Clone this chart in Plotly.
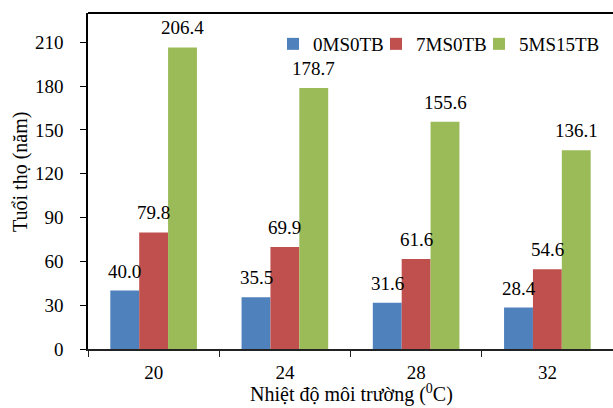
import plotly.graph_objects as go

categories = ["20", "24", "28", "32"]
s0 = [40.0, 35.5, 31.6, 28.4]
s7 = [79.8, 69.9, 61.6, 54.6]
s5 = [206.4, 178.7, 155.6, 136.1]
series_names = ["0MS0TB", "7MS0TB", "5MS15TB"]
colors = ["#4F81BD", "#C0504D", "#9BBB59"]
yticks = [0, 30, 60, 90, 120, 150, 180, 210]

FONT = "Liberation Serif"

W, H = 613, 408
L, R, T, B = 88, 0, 13, 59
pw = W - L - R
ph = H - T - B
BARGAP = 0.34
bar_px = pw / len(categories) * (1 - BARGAP) / 3

fig = go.Figure()
legend_widths = [58, 58, 80]
for name, vals, c, lw in zip(series_names, [s0, s7, s5], colors, legend_widths):
    fig.add_trace(go.Bar(
        x=categories, y=vals, name=name, marker=dict(color=c, line=dict(width=0)),
        legendwidth=lw,
    ))

annotations = []
for i, vals in enumerate([s0, s7, s5]):
    for k, v in enumerate(vals):
        # k = category position on the category axis
        annotations.append(dict(
            x=k, y=v, xref="x", yref="y", text=f"{v:.1f}", showarrow=False,
            xanchor="center", yanchor="bottom", xshift=(i - 1) * bar_px, yshift=7,
            font=dict(family=FONT, size=19, color="#000000"),
        ))

annotations += [
    dict(text="Tuổi thọ (năm)", textangle=-90, xref="paper", yref="paper",
         x=(20 - L) / pw, y=(349 - 172) / ph, xanchor="center", yanchor="middle",
         showarrow=False, font=dict(family=FONT, size=20)),
    dict(text="Nhiệt độ môi trường (<sup>0</sup>C)", xref="paper", yref="paper",
         x=(351 - L) / pw, y=-(408 - 349) / ph, xanchor="center", yanchor="bottom",
         showarrow=False, font=dict(family=FONT, size=20)),
]

fig.update_layout(
    width=W, height=H,
    margin=dict(l=L, r=R, t=T, b=B),
    paper_bgcolor="white", plot_bgcolor="white",
    barmode="group", bargap=BARGAP, bargroupgap=0,
    font=dict(family=FONT, size=19, color="#000000"),
    showlegend=True,
    legend=dict(orientation="h", x=(273 - L) / pw, y=(349 - 25) / ph,
                xanchor="left", yanchor="top", bgcolor="rgba(0,0,0,0)",
                font=dict(family=FONT, size=19), itemwidth=30,
                traceorder="normal"),
    xaxis=dict(type="category", showline=True, linecolor="#222222", linewidth=1.5,
               ticks="outside", ticklen=6, tickcolor="#222222", tickson="boundaries",
               tickfont=dict(family=FONT, size=19), showgrid=False,
               ticklabelstandoff=5),
    yaxis=dict(range=[0, 230], tickvals=yticks, showline=True, linecolor="#000000",
               linewidth=1.5, ticks="outside", ticklen=6, tickcolor="#000000",
               showgrid=False, zeroline=False, tickfont=dict(family=FONT, size=19),
               ticklabelstandoff=13),
    shapes=[dict(type="line", xref="paper", yref="paper", x0=0, x1=1, y0=1, y1=1,
                 line=dict(color="#000000", width=2))],
    annotations=annotations,
)

fig.write_html(
    "out.html",
    config={"displayModeBar": False},
    post_script="document.body.style.margin='0';document.body.style.overflow='hidden';",
)
